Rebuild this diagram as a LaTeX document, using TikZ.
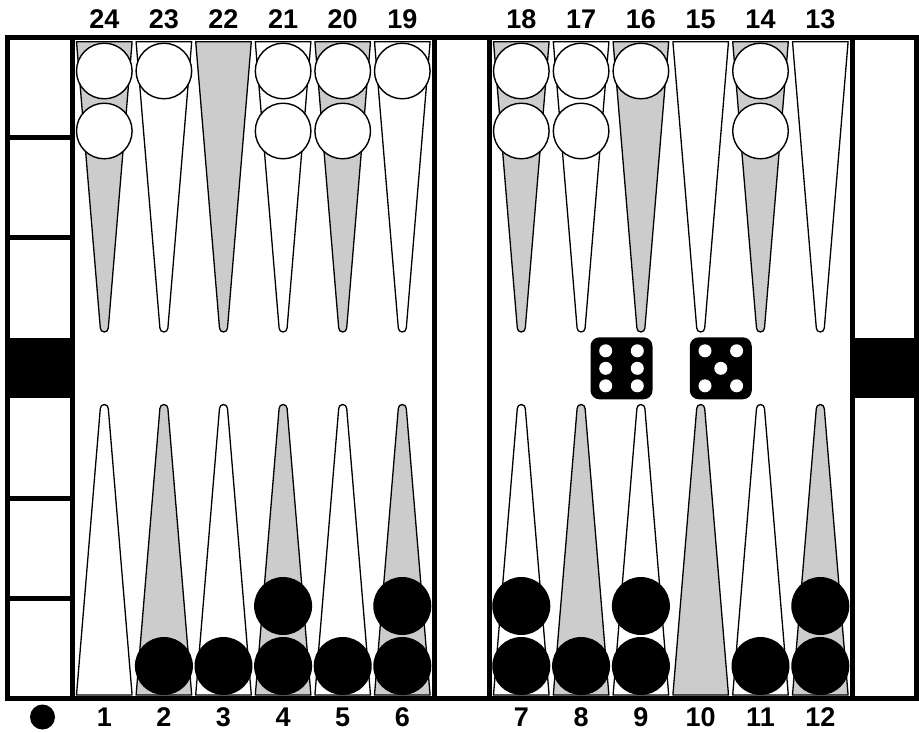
\documentclass[tikz,border=0pt]{standalone}
\usepackage{fontspec}
\setmainfont{Liberation Sans}
\usetikzlibrary{calc}
\definecolor{ptgray}{gray}{0.8}
\tikzset{
  frameline/.style={line width=5pt},
  ptbase/.style={draw=black, line width=1.3pt, line join=round},
  ptw/.style={ptbase, fill=white},
  ptg/.style={ptbase, fill=ptgray},
  wchk/.style={circle, draw=black, line width=1.4pt, fill=white, minimum size=55.6pt, inner sep=0pt},
  bchk/.style={circle, fill=black, minimum size=58pt, inner sep=0pt},
  lbl/.style={font=\fontsize{27}{27}\selectfont\bfseries, inner sep=0pt},
  diebox/.style={rectangle, fill=black, rounded corners=9pt, minimum size=62pt, inner sep=0pt},
  pip/.style={circle, fill=white, minimum size=13pt, inner sep=0pt},
  barblock/.style={fill=black}
}
\begin{document}
\begin{tikzpicture}[x=1pt,y=-1pt]
\useasboundingbox (0,0) rectangle (919,732);
% points (top row)
\foreach \c/\f in {104.3/ptg,163.9/ptw,223.5/ptg,283.1/ptw,342.7/ptg,402.3/ptw,
                   521.3/ptg,581.1/ptw,640.9/ptg,700.7/ptw,760.5/ptg,820.3/ptw}{
  \path[\f] (\c-27.8,41.7) -- (\c-4,328) arc[start angle=180,end angle=0,radius=4] -- (\c+27.8,41.7) -- cycle;
}
% points (bottom row)
\foreach \c/\f in {104.3/ptw,163.9/ptg,223.5/ptw,283.1/ptg,342.7/ptw,402.3/ptg,
                   521.3/ptw,581.1/ptg,640.9/ptw,700.7/ptg,760.5/ptw,820.3/ptg}{
  \path[\f] (\c-27.8,695) -- (\c-4,408.5) arc[start angle=180,end angle=360,radius=4] -- (\c+27.8,695) -- cycle;
}
% white checkers (top)
\foreach \n/\x/\y in {w24a/104.3/71, w24b/104.3/131, w23a/163.9/71,
                      w21a/283.1/71, w21b/283.1/131, w20a/342.7/71, w20b/342.7/131,
                      w19a/402.3/71, w18a/521.3/71, w18b/521.3/131,
                      w17a/581.1/71, w17b/581.1/131, w16a/640.9/71,
                      w14a/760.5/71, w14b/760.5/131}{
  \node[wchk] (\n) at (\x,\y) {};
}
% black checkers (bottom)
\foreach \n/\x/\y in {b2a/163.9/666, b3a/223.5/666, b4a/283.1/666, b4b/283.1/606,
                      b5a/342.7/666, b6a/402.3/666, b6b/402.3/606,
                      b7a/521.3/666, b7b/521.3/606, b8a/581.1/666,
                      b9a/640.9/666, b9b/640.9/606, b11a/760.5/666,
                      b12a/820.3/666, b12b/820.3/606}{
  \node[bchk] (\n) at (\x,\y) {};
}
% bar blocks
\fill[barblock] (5,338) rectangle (75,398);
\fill[barblock] (850,338) rectangle (919,398);
% frame
\draw[frameline] (7.5,37.5) rectangle (916.5,698.5);
\draw[frameline] (72.5,37.5) -- (72.5,698.5);
\draw[frameline] (434,37.5) -- (434,698.5);
\draw[frameline] (489,37.5) -- (489,698.5);
\draw[frameline] (852.5,37.5) -- (852.5,698.5);
\foreach \y in {137.5,237.5,498,598}{
  \draw[frameline] (7.5,\y) -- (72.5,\y);
}
% dice
\node[diebox] (d1) at (621.5,368.3) {};
\node[diebox] (d2) at (720.8,368.3) {};
\foreach \n/\dx/\dy in {a/-15.8/-17.5, b/15.8/-17.5, c/-15.8/0, d/15.8/0, e/-15.8/17.5, f/15.8/17.5}{
  \node[pip] (d1\n) at ($(d1.center)+(\dx,\dy)$) {};
}
\foreach \n/\dx/\dy in {a/-15.8/-17.5, b/15.8/-17.5, c/0/0, e/-15.8/17.5, f/15.8/17.5}{
  \node[pip] (d2\n) at ($(d2.center)+(\dx,\dy)$) {};
}
% labels
\foreach \t/\x in {24/104.3,23/163.9,22/223.5,21/283.1,20/342.7,19/402.3,
                   18/521.3,17/581.1,16/640.9,15/700.7,14/760.5,13/820.3}{
  \node[lbl] (t\t) at (\x,18.8) {\vphantom{0}\t};
}
\foreach \t/\x in {1/104.3,2/163.9,3/223.5,4/283.1,5/342.7,6/402.3,
                   7/521.3,8/581.1,9/640.9,10/700.7,11/760.5,12/820.3}{
  \node[lbl] (l\t) at (\x,717.5) {\vphantom{0}\t};
}
\node[circle, fill=black, minimum size=25pt, inner sep=0pt] (turn) at (42.5,717) {};
\end{tikzpicture}
\end{document}
